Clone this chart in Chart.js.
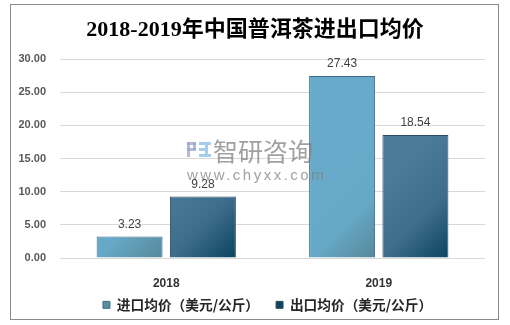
<!DOCTYPE html>
<html>
<head>
<meta charset="utf-8">
<script src="https://cdn.jsdelivr.net/npm/chart.js@4"></script>
<style>
  html, body { margin: 0; padding: 0; background: #fff; }
  #wrap { width: 510px; height: 325px; }
</style>
</head>
<body>
<div id="wrap"><canvas id="priceChart" width="510" height="325"></canvas></div>
<script>
const years = ['2018', '2019'];
const importPrice = [3.23, 27.43];
const exportPrice = [9.28, 18.54];
const seriesNames = ['进口均价（美元/公斤）', '出口均价（美元/公斤）'];
const yTicks = [0, 5, 10, 15, 20, 25, 30];

const CAT_PCT = 0.69;
const BAR_PCT = 0.9;

// diagonal gradient, anchored on a square at the foot of each bar
function barFill(c, stops) {
  const chart = c.chart;
  const area = chart.chartArea;
  if (!area || c.type !== 'data') return stops[0][1];
  const xs = chart.scales.x, ys = chart.scales.y;
  const yBase = ys.getPixelForValue(0);
  const slot = (area.right - area.left) / years.length * CAT_PCT / 2;
  const w = slot * BAR_PCT;
  const xc = xs.getPixelForValue(c.dataIndex) + (c.datasetIndex - 0.5) * slot;
  const x0 = xc - w / 2, x1 = xc + w / 2;
  const g = chart.ctx.createLinearGradient(x0, yBase - w, x1, yBase);
  stops.forEach(s => g.addColorStop(s[0], s[1]));
  return g;
}

const importStops = [[0, '#67aac9'], [0.5, '#66a9c7'], [1, '#57889a']];
const exportStops = [[0, '#4a7a98'], [0.5, '#3e6d8b'], [1, '#0b4460']];

const framePlugin = {
  id: 'frame',
  beforeDraw(chart) {
    const ctx = chart.ctx;
    ctx.save();
    ctx.fillStyle = '#fff';
    ctx.fillRect(0, 0, chart.width, chart.height);
    ctx.strokeStyle = '#898989';
    ctx.lineWidth = 1;
    ctx.strokeRect(10.5, 4.5, 488, 315);
    ctx.restore();
  }
};

const watermarkPlugin = {
  id: 'watermark',
  afterDatasetsDraw(chart) {
    const ctx = chart.ctx;
    ctx.save();
    ctx.globalAlpha = 0.75;
    // logo
    ctx.fillStyle = '#9aa6c8';
    ctx.fillRect(187, 142, 9, 3);
    ctx.fillRect(187, 142, 3, 15);
    ctx.fillRect(193, 142, 3, 8);
    ctx.fillRect(187, 148, 9, 3);
    ctx.fillStyle = '#86bde6';
    ctx.fillRect(199, 142, 12, 3);
    ctx.fillRect(199, 154, 12, 3);
    ctx.fillRect(205, 145, 3, 9);
    ctx.fillRect(199, 148, 6, 3);
    ctx.fillStyle = '#808080';
    ctx.font = '25px "Noto Sans CJK SC"';
    ctx.textBaseline = 'middle';
    ctx.textAlign = 'left';
    ctx.fillText('智研咨询', 213, 151);
    ctx.font = '15px "Liberation Sans"';
    ctx.letterSpacing = '2.5px';
    ctx.fillText('www.chyxx.com', 187, 176);
    ctx.restore();
  }
};

const valueLabelPlugin = {
  id: 'valueLabels',
  afterDatasetsDraw(chart) {
    const ctx = chart.ctx;
    ctx.save();
    ctx.font = '12px "Liberation Sans"';
    ctx.fillStyle = '#404040';
    ctx.textAlign = 'center';
    ctx.textBaseline = 'bottom';
    chart.data.datasets.forEach((ds, i) => {
      chart.getDatasetMeta(i).data.forEach((bar, j) => {
        ctx.fillText(ds.data[j].toFixed(2), bar.x, bar.y - 6);
      });
    });
    ctx.restore();
  }
};

new Chart(document.getElementById('priceChart'), {
  type: 'bar',
  data: {
    labels: years,
    datasets: [
      {
        // trailing spaces widen the gap between legend entries
        label: seriesNames[0] + '\u3000  ',
        data: importPrice,
        backgroundColor: c => barFill(c, importStops),
        borderColor: '#3f6d86',
        borderWidth: 1,
        borderSkipped: 'bottom',
        categoryPercentage: CAT_PCT,
        barPercentage: BAR_PCT
      },
      {
        label: seriesNames[1] + '\u3000 ',
        data: exportPrice,
        backgroundColor: c => barFill(c, exportStops),
        borderColor: '#2b4d61',
        borderWidth: 1,
        borderSkipped: 'bottom',
        categoryPercentage: CAT_PCT,
        barPercentage: BAR_PCT
      }
    ]
  },
  options: {
    responsive: false,
    animation: false,
    devicePixelRatio: 1,
    layout: { padding: { left: 12, right: 12, top: 0, bottom: 3.3 } },
    plugins: {
      title: {
        display: true,
        text: '2018-2019年中国普洱茶进出口均价',
        color: '#000',
        font: { family: '"Liberation Serif", "Noto Sans CJK SC"', size: 22, weight: 'bold' },
        padding: { top: 16.8, bottom: 15.8 }
      },
      legend: {
        position: 'bottom',
        fullSize: false,
        labels: {
          color: '#262626',
          font: { family: '"Noto Sans CJK SC"', size: 13.7, weight: 'bold' },
          boxWidth: 7,
          boxHeight: 7,
          padding: 4
        }
      },
      tooltip: { enabled: false }
    },
    scales: {
      x: {
        grid: { display: false },
        border: { display: false },
        ticks: {
          color: '#333',
          font: { family: '"Liberation Sans"', size: 12, weight: 'bold' },
          padding: 10
        },
        afterFit(s) { s.height = 36; }
      },
      y: {
        min: 0,
        max: 30,
        afterBuildTicks(s) { s.ticks = yTicks.map(v => ({ value: v })); },
        grid: { color: '#d9d9d9', drawTicks: false },
        border: { display: false },
        ticks: {
          color: '#595959',
          font: { family: '"Liberation Sans"', size: 11, weight: 'bold' },
          padding: 14,
          callback: v => v.toFixed(2)
        },
        afterFit(s) { s.width = 48; }
      },
      // empty right axis only reserves the right margin
      yRight: {
        position: 'right',
        grid: { display: false },
        border: { display: false },
        ticks: { display: false },
        afterFit(s) { s.width = 13; }
      }
    }
  },
  plugins: [framePlugin, watermarkPlugin, valueLabelPlugin]
});
</script>
</body>
</html>
